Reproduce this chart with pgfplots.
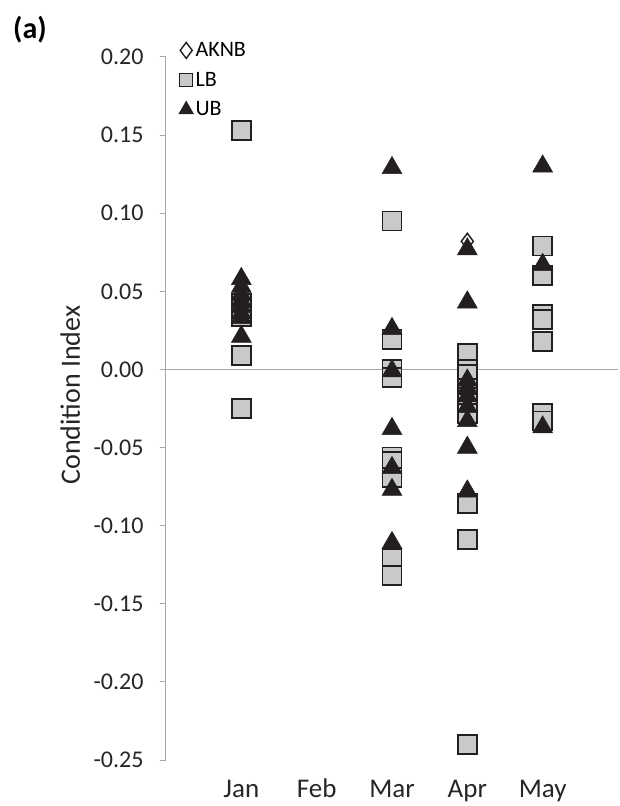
\documentclass[border=0pt]{standalone}
\usepackage{fontspec}
\setmainfont{Carlito}
\usepackage{pgfplots}
\pgfplotsset{compat=1.18}
\definecolor{lbfill}{HTML}{C8C9CB}
\definecolor{mk}{HTML}{231F20}
\definecolor{zl}{HTML}{A8A8A8}
\begin{document}
\begin{tikzpicture}
\begin{axis}[
  at={(0pt,0pt)}, anchor=south west,
  scale only axis, width=452pt, height=703pt,
  xmin=0, xmax=6, ymin=-0.25, ymax=0.20,
  axis x line=bottom, axis y line=left,
  x axis line style={draw=none},
  y axis line style={zl, line width=1pt, -},
  xtick={1,2,3,4,5}, xticklabels={Jan,Feb,Mar,Apr,May},
  x tick style={draw=none},
  ytick={-0.25,-0.2,...,0.21},
  y tick style={zl, line width=1pt},
  tick align=outside, major tick length=6pt,
  /pgf/number format/assume math mode=true,
  /pgf/number format/fixed, /pgf/number format/fixed zerofill, /pgf/number format/precision=2,
  tick label style={font=\fontsize{24}{28}\selectfont, text=black!85},
  yticklabel style={xshift=-13pt},
  xticklabel style={yshift=-9pt, font=\fontsize{27}{31}\selectfont, text height=19pt, text depth=6pt},
  ylabel={Condition Index},
  ylabel style={at={(axis description cs:-0.212,0.519)}, anchor=center, font=\fontsize{28}{32}\selectfont, text=black!85},
  clip=false,
  legend cell align=left,
  legend style={draw=none, fill=none, at={(axis description cs:0.028,1.0236)}, anchor=north west,
    font=\fontsize{22}{26}\selectfont, row sep=10pt, inner sep=0pt},
]
\draw[zl, line width=1.3pt] (axis cs:0,0) -- (axis cs:6,0);
\addlegendimage{only marks, mark=diamond*, mark size=8pt, mark options={fill=white, draw=mk, line width=1.4pt}}
\addlegendentry{AKNB}
\addlegendimage{only marks, mark=square*, mark size=6.5pt, mark options={fill=lbfill, draw=mk, line width=1.4pt}}
\addlegendentry{LB}
\addlegendimage{only marks, mark=triangle*, mark size=8.5pt, mark options={fill=mk, draw=mk, line width=0.5pt}}
\addlegendentry{UB}
% AKNB
\addplot[forget plot, only marks, mark=diamond*, mark size=8pt, mark options={fill=white, draw=mk, line width=1.5pt}]
coordinates {(4,0.082)};
% LB
\addplot[forget plot, only marks, mark=square*, mark size=9.5pt, mark options={fill=lbfill, draw=mk, line width=1.8pt}]
coordinates {
(1,0.153) (1,0.042) (1,0.038) (1,0.034) (1,0.009) (1,-0.025)
(3,0.095) (3,0.019) (3,0.000) (3,-0.005) (3,-0.056) (3,-0.059) (3,-0.069) (3,-0.121) (3,-0.132)
(4,0.010) (4,0.000) (4,-0.003) (4,-0.012) (4,-0.018) (4,-0.022) (4,-0.028) (4,-0.086) (4,-0.109) (4,-0.240)
(5,0.079) (5,0.060) (5,0.035) (5,0.032) (5,0.018) (5,-0.028) (5,-0.033)
};
% UB
\addplot[forget plot, only marks, mark=triangle*, mark size=11.5pt, mark options={fill=mk, draw=mk, line width=0.5pt}]
coordinates {
(1,0.058) (1,0.053) (1,0.048) (1,0.044) (1,0.040) (1,0.036) (1,0.033) (1,0.021)
(3,0.129) (3,0.026) (3,-0.001) (3,-0.038) (3,-0.063) (3,-0.077) (3,-0.111)
(4,0.077) (4,0.043) (4,-0.007) (4,-0.012) (4,-0.017) (4,-0.024) (4,-0.033) (4,-0.050) (4,-0.078)
(5,0.130) (5,0.067) (5,-0.037)
};
\end{axis}
\node[font=\bfseries\fontsize{30}{34}\selectfont, anchor=center] at (-136pt,730pt) {(a)};
\pgfresetboundingbox
\path[use as bounding box] (-166pt,-46pt) rectangle (453pt,760pt);
\end{tikzpicture}
\end{document}
